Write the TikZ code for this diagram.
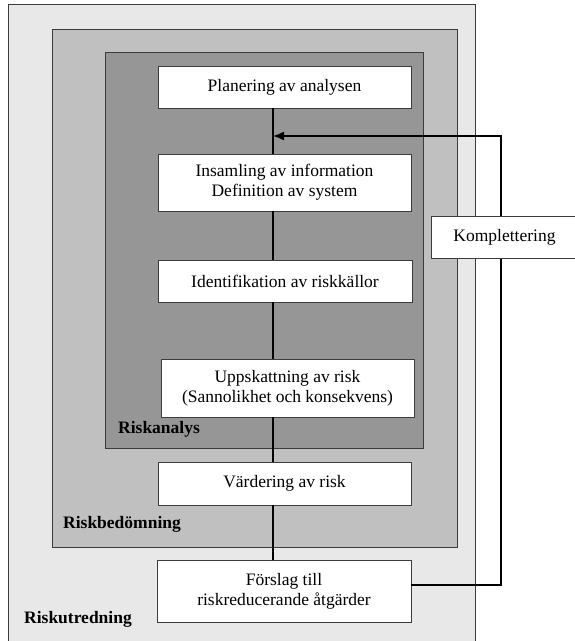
\documentclass[tikz,border=0pt]{standalone}
\usepackage{fontspec}
\setmainfont{Liberation Serif}
\usetikzlibrary{arrows.meta}
\definecolor{outerc}{RGB}{232,232,232}
\definecolor{midc}{RGB}{192,192,192}
\definecolor{innerc}{RGB}{150,150,150}
\definecolor{edgec}{RGB}{60,60,60}
\tikzset{
  region/.style={draw=edgec, line width=0.9pt},
  box/.style={draw=edgec, fill=white, line width=0.9pt, inner sep=0pt, align=center,
    font=\fontsize{17.5}{20}\selectfont},
  lbl/.style={anchor=west, inner sep=0pt, font=\fontsize{17.5}{20}\selectfont\bfseries},
  conn/.style={draw=black, line width=1.4pt},
}
\begin{document}
\begin{tikzpicture}[x=1pt,y=-1pt]
\useasboundingbox (0,0) rectangle (574,641);
% regions
\path[region, fill=outerc] (8,4) rectangle (475,648);
\path[region, fill=midc] (52,29) rectangle (457,547);
\path[region, fill=innerc] (105,52) rectangle (423,448);
% boxes
\node[box, minimum width=253pt, minimum height=42pt] (b1) at (284.5,87) {Planering av analysen};
\node[box, minimum width=253pt, minimum height=57pt] (b2) at (284.5,182.5) {Insamling av information\\Definition av system};
\node[box, minimum width=254pt, minimum height=42pt] (b3) at (285,281) {Identifikation av riskkällor};
\node[box, minimum width=253pt, minimum height=58pt] (b4) at (287.5,388) {Uppskattning av risk\\(Sannolikhet och konsekvens)};
\node[box, minimum width=253pt, minimum height=43pt] (b5) at (284.5,483.5) {Värdering av risk};
\node[box, minimum width=254pt, minimum height=62pt] (b6) at (284,591) {Förslag till\\riskreducerande åtgärder};
\node[box, minimum width=147pt, minimum height=42pt] (k) at (504.5,237) {Komplettering};
% labels
\node[lbl] (l1) at (118,429) {Riskanalys};
\node[lbl] (l2) at (63,524) {Riskbedömning};
\node[lbl] (l3) at (24,619) {Riskutredning};
% connectors
\coordinate (vx) at (273,136);
\coordinate (fbtop) at (501,136);
\draw[conn] (b1.south -| vx) -- (b2.north -| vx);
\draw[conn] (b2.south -| vx) -- (b3.north -| vx);
\draw[conn] (b3.south -| vx) -- (b4.north -| vx);
\draw[conn] (b4.south -| vx) -- (b5.north -| vx);
\draw[conn] (b5.south -| vx) -- (b6.north -| vx);
\draw[conn, -{Latex[length=11pt,width=9pt]}] ([yshift=6pt]b6.east) -| (fbtop) -- (vx);
% redraw Komplettering box over the feedback line
\node[box, minimum width=147pt, minimum height=42pt] at (k) {Komplettering};
\end{tikzpicture}
\end{document}
